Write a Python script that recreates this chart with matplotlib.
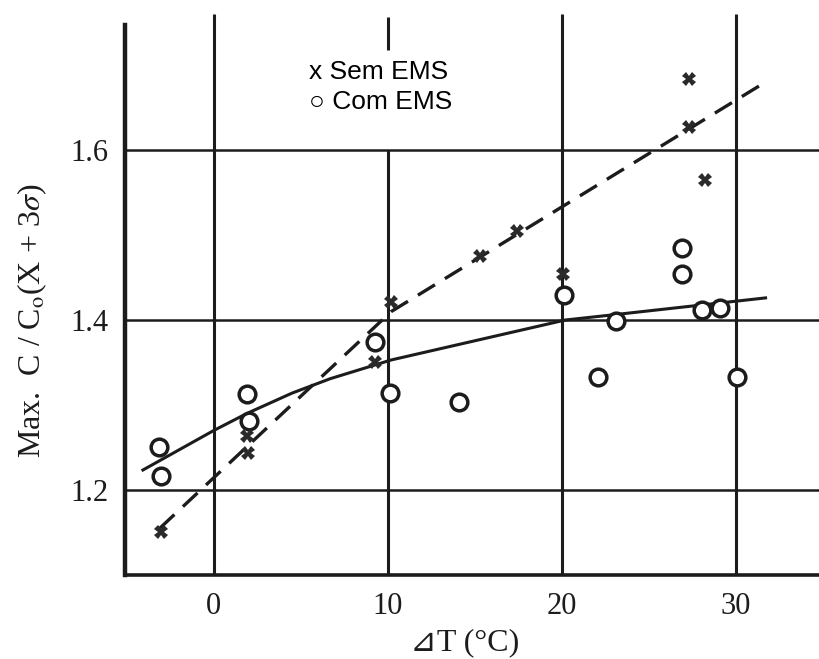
import matplotlib.pyplot as plt

# measured points, Sem EMS (x) and Com EMS (o)
sem_dt = [-3.05, 1.95, 1.9, 9.25, 10.2, 15.3, 17.4, 20.05, 27.3, 27.3, 28.2]
sem_c = [1.151, 1.243, 1.263, 1.351, 1.421, 1.475, 1.505, 1.454, 1.684, 1.627, 1.565]

com_dt = [-3.15, -3.05, 1.9, 2.05, 9.25, 10.15, 14.1, 20.1, 22.05, 23.1,
          26.9, 26.9, 28.05, 29.1, 30.05]
com_c = [1.250, 1.217, 1.313, 1.281, 1.374, 1.314, 1.303, 1.429, 1.333, 1.399,
         1.485, 1.454, 1.412, 1.414, 1.333]

# trend lines drawn through the data
sem_fit_dt = [-3.1, 10.2, 31.7]
sem_fit_c = [1.155, 1.41, 1.68]
com_fit_dt = [-4.07, 0.0, 1.9, 4.5, 6.7, 10.2, 20.2, 22.9, 31.7]
com_fit_c = [1.2235, 1.27, 1.29, 1.314, 1.331, 1.353, 1.40, 1.406, 1.426]

xticks = [0, 10, 20, 30]
yticks = [1.2, 1.4, 1.6]

ink = '#1c1c1c'
plt.rcParams['mathtext.fontset'] = 'stix'
serif = ['Liberation Serif', 'DejaVu Serif', 'DejaVu Sans']
sans = ['Liberation Sans', 'DejaVu Sans']

fig = plt.figure(figsize=(8.19, 6.59), dpi=100)
ax = fig.add_axes([0.1526, 0.1275, 0.8474, 0.8725])
ax.set_xlim(-5.1, 34.77)
ax.set_ylim(1.1, 1.7765)

# hand-drawn style grid
for xv in xticks:
    if xv == 10:
        ax.vlines(xv, 1.1, 1.6, color=ink, lw=2.2, zorder=1)
        ax.vlines(xv, 1.718, 1.756, color=ink, lw=2.2, zorder=1)
    else:
        ax.vlines(xv, 1.1, 1.76, color=ink, lw=2.2, zorder=1)
for yv in yticks:
    ax.axhline(yv, color=ink, lw=1.8, zorder=1)

for s in ['top', 'right']:
    ax.spines[s].set_visible(False)
ax.spines['left'].set_linewidth(3.2)
ax.spines['left'].set_color(ink)
ax.spines['left'].set_bounds(1.1, 1.747)
ax.spines['bottom'].set_linewidth(2.6)
ax.spines['bottom'].set_color(ink)

ax.plot(sem_fit_dt, sem_fit_c, color=ink, lw=2.4, dashes=(6, 3.5), zorder=2)
ax.plot(com_fit_dt, com_fit_c, color=ink, lw=2.2, zorder=2)

ax.plot(com_dt, com_c, 'o', ms=12, mfc='white', mec=ink, mew=2.5, zorder=3)
ax.plot(sem_dt, sem_c, 'X', ms=10, color='#2a2a2a', mew=0, zorder=4)

ax.set_xticks(xticks)
ax.set_yticks(yticks)
ax.set_yticklabels(['1.2', '1.4', '1.6'])
ax.tick_params(length=0, labelsize=22, colors=ink, pad=12)
for lab in ax.get_xticklabels() + ax.get_yticklabels():
    lab.set_family(serif)

ax.set_xlabel('⊿T (°C)', fontsize=23, family=serif, color=ink)
ax.xaxis.set_label_coords(0.49, -0.093)
ax.set_ylabel('Max.  C / C$_{\\mathrm{o}}$(X + 3$\\sigma$)', fontsize=23,
              family=serif, color=ink)
ax.yaxis.set_label_coords(-0.11, 0.442)

ax.text(5.5, 1.692, 'x Sem EMS', fontsize=19, family=sans,
        va='center', ha='left', color='black')
ax.text(5.5, 1.656, '○ Com EMS', fontsize=19, family=sans,
        va='center', ha='left', color='black')

plt.savefig('out.png', dpi=100)
